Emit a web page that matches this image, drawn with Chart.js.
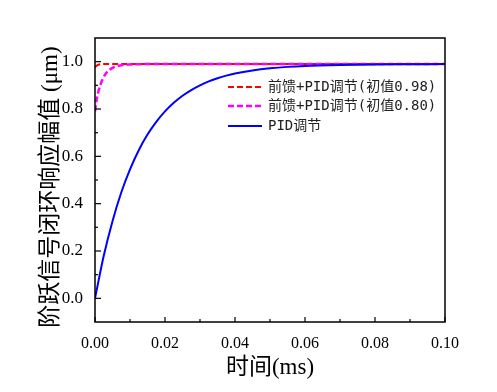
<!DOCTYPE html>
<html><head><meta charset="utf-8">
<script src="https://cdn.jsdelivr.net/npm/chart.js@4/dist/chart.umd.min.js"></script>
<style>html,body{margin:0;padding:0;background:#fff}#wrap{width:497px;height:392px}</style>
</head><body><div id="wrap"><canvas id="c" width="497" height="392"></canvas></div>
<script>
const xTicks = [0, 0.02, 0.04, 0.06, 0.08, 0.10];
const yTicks = [0.0, 0.2, 0.4, 0.6, 0.8, 1.0];
const labels = ['前馈+PID调节(初值0.98)', '前馈+PID调节(初值0.80)', 'PID调节'];

const redT = [0, 0.0005, 0.001, 0.0015, 0.002, 0.003, 0.005, 0.01, 0.02, 0.04, 0.06, 0.08, 0.1];
const redY = [0.977, 0.983, 0.987, 0.989, 0.990, 0.990, 0.990, 0.990, 0.990, 0.990, 0.990, 0.990, 0.990];

const magT = [0, 0.0005, 0.001, 0.0015, 0.002, 0.003, 0.004, 0.005, 0.006, 0.008, 0.01, 0.012, 0.015, 0.02, 0.04, 0.06, 0.08, 0.1];
const magY = [0.790, 0.842, 0.875, 0.900, 0.920, 0.948, 0.964, 0.974, 0.980, 0.986, 0.988, 0.989, 0.990, 0.990, 0.990, 0.990, 0.990, 0.990];

const pidT = [0, 0.0025, 0.005, 0.0075, 0.01, 0.0125, 0.015, 0.0175, 0.02, 0.0225, 0.025, 0.0275, 0.03, 0.0325, 0.035, 0.0375, 0.04, 0.045, 0.05, 0.055, 0.06, 0.07, 0.08, 0.09, 0.1];
const pidY = [0.0, 0.180, 0.326, 0.447, 0.545, 0.626, 0.692, 0.746, 0.790, 0.826, 0.856, 0.880, 0.900, 0.917, 0.930, 0.941, 0.950, 0.963, 0.972, 0.978, 0.982, 0.986, 0.988, 0.989, 0.990];

const pts = (t, y) => t.map((v, i) => ({x: v, y: y[i]}));

const frame = {
  id: 'frame',
  afterDraw(chart) {
    const ctx = chart.ctx, a = chart.chartArea;
    const xs = chart.scales.x, ys = chart.scales.y;
    ctx.save();
    ctx.strokeStyle = '#000';
    ctx.lineWidth = 1.5;
    ctx.strokeRect(a.left, a.top, a.right - a.left, a.bottom - a.top);
    ctx.lineWidth = 1.2;
    for (let i = 0; i <= 10; i++) {
      const px = xs.getPixelForValue(i * 0.01);
      const len = (i % 2 === 0) ? 5 : 3;
      ctx.beginPath(); ctx.moveTo(px, a.bottom); ctx.lineTo(px, a.bottom - len); ctx.stroke();
    }
    for (let i = 0; i <= 10; i++) {
      const py = ys.getPixelForValue(i * 0.1);
      const len = (i % 2 === 0) ? 6 : 3;
      ctx.beginPath(); ctx.moveTo(a.left, py); ctx.lineTo(a.left + len, py); ctx.stroke();
    }
    ctx.fillStyle = '#000';
    ctx.textAlign = 'center'; ctx.textBaseline = 'middle';
    ctx.font = '23px "Liberation Serif", "Noto Sans CJK SC"';
    ctx.fillText('时间(ms)', (a.left + a.right) / 2, 368);
    ctx.save();
    ctx.translate(51, 187);
    ctx.rotate(-Math.PI / 2);
    ctx.fillText('阶跃信号闭环响应幅值 (μm)', 0, 0);
    ctx.restore();
    const order = [1, 2, 0];
    const rows = [87, 106, 126];
    ctx.font = '14px "DejaVu Sans Mono", "Noto Sans CJK SC"';
    ctx.textAlign = 'left';
    order.forEach((di, r) => {
      const ds = chart.data.datasets[di];
      ctx.save();
      ctx.strokeStyle = ds.borderColor;
      ctx.lineWidth = ds.borderWidth;
      ctx.setLineDash(ds.borderDash || []);
      ctx.beginPath(); ctx.moveTo(228, rows[r]); ctx.lineTo(262, rows[r]); ctx.stroke();
      ctx.restore();
      ctx.fillStyle = '#222';
      ctx.fillText(ds.label, 268, rows[r]);
    });
    ctx.restore();
  }
};

new Chart(document.getElementById('c'), {
  type: 'line',
  data: {
    datasets: [
      {label: labels[2], data: pts(pidT, pidY), borderColor: '#0000ff', borderWidth: 2, order: 0},
      {label: labels[0], data: pts(redT, redY), borderColor: '#ff0000', borderWidth: 2, borderDash: [6, 3], order: 2},
      {label: labels[1], data: pts(magT, magY), borderColor: '#ff00ff', borderWidth: 2.5, borderDash: [6, 3], order: 1}
    ]
  },
  options: {
    responsive: false,
    animation: false,
    layout: {padding: {left: 0, top: 38, right: 52, bottom: 0}},
    elements: {point: {radius: 0}, line: {cubicInterpolationMode: 'monotone', fill: false}},
    plugins: {legend: {display: false}, tooltip: {enabled: false}},
    scales: {
      x: {
        type: 'linear', min: 0, max: 0.1,
        grid: {display: false}, border: {display: false},
        afterBuildTicks: s => { s.ticks = xTicks.map(v => ({value: v})); },
        afterFit: s => { s.height = 70; },
        ticks: {color: '#000', padding: 4, maxRotation: 0, font: {family: '"Liberation Serif"', size: 16},
                callback: v => Number(v).toFixed(2)}
      },
      y: {
        type: 'linear', min: -0.1, max: 1.1,
        grid: {display: false}, border: {display: false},
        afterBuildTicks: s => { s.ticks = yTicks.map(v => ({value: v})); },
        afterFit: s => { s.width = 95; },
        ticks: {color: '#000', padding: 4, font: {family: '"Liberation Serif"', size: 17},
                callback: v => Number(v).toFixed(1)}
      }
    }
  },
  plugins: [frame]
});
</script></body></html>
